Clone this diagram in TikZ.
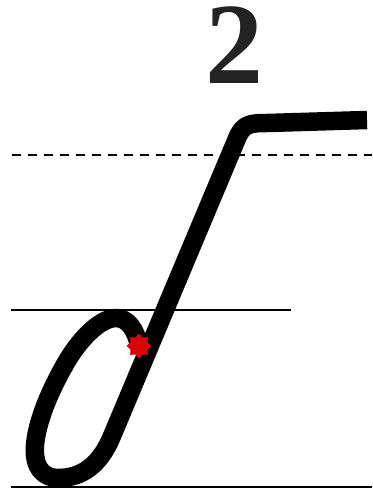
\documentclass[tikz,border=0pt]{standalone}
\usepackage{fontspec}
\setmainfont{Liberation Serif}
\usetikzlibrary{shapes.geometric}

\definecolor{starred}{RGB}{215,5,5}
\definecolor{numgray}{RGB}{35,35,35}

\tikzset{
  guide/.style={black, line width=1.1pt},
  letterstroke/.style={black, line width=0.37cm, line cap=butt, line join=round},
}

\begin{document}
\begin{tikzpicture}[x=0.02cm, y=-0.02cm]

  % ==========================================
  % CADRE (372 x 492)
  % ==========================================
  \useasboundingbox (0,0) rectangle (372,492);

  % Numero en haut
  \node[numgray, anchor=base, inner sep=0pt, font=\fontsize{66}{66}\selectfont\bfseries] (num) at (234,84) {2};

  % ==========================================
  % LIGNES DE REGLURE
  % ==========================================
  \draw[guide, dash pattern=on 0.18cm off 0.14cm] (12,155) -- (372,155);
  \draw[guide] (11,310) -- (291,310);
  \draw[guide] (11,487) -- (372,487);

  % ==========================================
  % LETTRE : boucle puis jambage montant
  % ==========================================
  \draw[letterstroke] (139,346) .. controls (136,330) and (128,318) .. (116,318)
    .. controls (100,318) and (78,340) .. (63,368)
    .. controls (49,393) and (37,422) .. (35,445)
    .. controls (33,468) and (44,478) .. (58,478)
    .. controls (82,478) and (100,465) .. (112,436)
    -- (238,136) .. controls (244,124) and (250,123) .. (268,123) -- (367,120);

  % Point de depart (etoile rouge)
  \node[star, star points=8, star point ratio=1.35, fill=starred, inner sep=0pt, minimum size=0.5cm] (start) at (139,346) {};

\end{tikzpicture}
\end{document}
